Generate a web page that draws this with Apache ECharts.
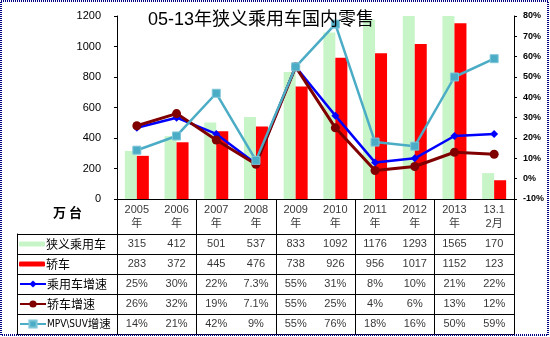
<!DOCTYPE html>
<html><head><meta charset="utf-8">
<script src="https://cdn.jsdelivr.net/npm/echarts@6/dist/echarts.min.js"></script>
<style>html,body{margin:0;padding:0;background:#fff}#c{width:550px;height:337px}</style>
</head><body><div id="c"></div>
<script>
// ---- data ----
const categories = ['2005年','2006年','2007年','2008年','2009年','2010年','2011年','2012年','2013年','13.12月'];
const headerLabels = ['2005\n年','2006\n年','2007\n年','2008\n年','2009\n年','2010\n年','2011\n年','2012\n年','2013\n年','13.1\n2月'];
const seriesNames = ['狭义乘用车','轿车','乘用车增速','轿车增速','MPV\\SUV增速'];
const passengerCars = [315,412,501,537,833,1092,1176,1293,1565,170];
const sedans = [283,372,445,476,738,926,956,1017,1152,123];
const passengerGrowth = [25,30,22,7.3,55,31,8,10,21,22];
const sedanGrowth = [26,32,19,7.1,55,25,4,6,13,12];
const mpvSuvGrowth = [14,21,42,9,55,76,18,16,50,59];
const leftAxis = {min:0, max:1200, interval:200};
const rightAxis = {min:-10, max:80, interval:10};

// ---- layout ----
const FONT = "Arial, 'Liberation Sans', 'Noto Sans CJK SC', sans-serif";
const CJK = "'Noto Sans CJK SC', sans-serif";
const NARROW = "'Liberation Sans Narrow', 'DejaVu Sans Condensed', 'Arial Narrow', sans-serif";
const L = 117, W = 397, T = 16, PH = 183, HH = 35, BH = 100, LEG_L = 17;
const rowH = BH / 5;

const tableRows = [
  passengerCars.map(String),
  sedans.map(String),
  passengerGrowth.map(v => v + '%'),
  sedanGrowth.map(v => v + '%'),
  mpvSuvGrowth.map(v => v + '%')
];
const bodyCells = [];
tableRows.forEach((row, r) => row.forEach((txt, c) => bodyCells.push([c, r, txt])));

const blk = {color:'#000', width:1};
const chart = echarts.init(document.getElementById('c'));
chart.setOption({
  animation:false,
  backgroundColor:'#fff',
  title:[
    {text:'05-13年狭义乘用车国内零售', left:148, top:11, padding:0,
     textStyle:{fontSize:18, fontWeight:'normal', color:'#000', fontFamily:FONT}},
    {text:'万 台', left:53, top:206, padding:0,
     textStyle:{fontSize:13, fontWeight:'bold', color:'#000', fontFamily:CJK}}
  ],
  legend: seriesNames.map((n, i) => ({
    data:[n], left:LEG_L + 2, top:T + PH + HH + i * rowH, padding:0,
    itemWidth:26, itemHeight: i < 2 ? 5 : 9, selectedMode:false,
    formatter: name => name.replace(/^([A-Za-z\\]+)/, '{n|$1}'),
    textStyle:{fontSize: i === 4 ? 11.5 : 12, color:'#000', fontFamily:CJK, lineHeight:rowH, padding:[0,0,0,-4],
      rich:{n:{fontSize:10, fontFamily:NARROW, color:'#000', lineHeight:rowH}}}
  })),
  grid:[
    {left:L, top:T, width:W, height:PH},
    {left:L, top:T+PH, width:W, height:HH},
    {left:L, top:T+PH+HH, width:W, height:BH},
    {left:LEG_L, top:T+PH+HH, width:L-LEG_L, height:BH}
  ],
  xAxis:[
    {gridIndex:0, type:'category', data:categories, axisLabel:{show:false}, axisTick:{show:false}, axisLine:{lineStyle:blk}},
    {gridIndex:1, type:'category', data:categories, axisLabel:{show:false}, axisTick:{show:false}, axisLine:{show:false}, splitLine:{show:true, lineStyle:blk}},
    {gridIndex:2, type:'category', data:categories, axisLabel:{show:false}, axisTick:{show:false}, axisLine:{show:true, lineStyle:blk}, splitLine:{show:true, lineStyle:blk}},
    {gridIndex:3, type:'value', min:0, max:1, axisLabel:{show:false}, axisTick:{show:false}, axisLine:{show:true, lineStyle:blk}, splitLine:{show:false}}
  ],
  yAxis:[
    {gridIndex:0, type:'value', min:leftAxis.min, max:leftAxis.max, interval:leftAxis.interval, position:'left',
     axisLine:{show:true, lineStyle:blk}, axisTick:{show:true, length:3, lineStyle:blk}, splitLine:{show:false},
     axisLabel:{color:'#000', fontSize:11, fontFamily:FONT, margin:16, formatter:v => String(v)}},
    {gridIndex:0, type:'value', min:rightAxis.min, max:rightAxis.max, interval:rightAxis.interval, position:'right',
     axisLine:{show:true, lineStyle:blk}, axisTick:{show:true, length:3, lineStyle:blk}, splitLine:{show:false},
     axisLabel:{color:'#000', fontSize:9, fontWeight:'bold', fontFamily:FONT, margin:9, formatter:'{value}%'}},
    {gridIndex:1, type:'category', data:['h'], axisLine:{show:false}, axisTick:{show:false}, axisLabel:{show:false}, splitLine:{show:false}},
    {gridIndex:2, type:'category', data:seriesNames, inverse:true, axisLine:{show:true, lineStyle:blk}, axisTick:{show:false}, axisLabel:{show:false}, splitLine:{show:true, lineStyle:blk}},
    {gridIndex:3, type:'category', data:seriesNames, inverse:true, axisLine:{show:true, lineStyle:blk}, axisTick:{show:false}, axisLabel:{show:false}, splitLine:{show:true, lineStyle:blk}}
  ],
  series:[
    {name:seriesNames[0], type:'bar', xAxisIndex:0, yAxisIndex:0, data:passengerCars, barWidth:12, barGap:'0%', clip:true,
     itemStyle:{color:'#c8f5c8'}},
    {name:seriesNames[1], type:'bar', xAxisIndex:0, yAxisIndex:0, data:sedans, barWidth:12, barGap:'0%', clip:true,
     itemStyle:{color:'#ff0000'}},
    {name:seriesNames[2], type:'line', xAxisIndex:0, yAxisIndex:1, data:passengerGrowth, symbol:'diamond', symbolSize:8,
     lineStyle:{color:'#0000ff', width:2.5}, itemStyle:{color:'#0000ff'}},
    {name:seriesNames[3], type:'line', xAxisIndex:0, yAxisIndex:1, data:sedanGrowth, symbol:'circle', symbolSize:9,
     lineStyle:{color:'#800000', width:3}, itemStyle:{color:'#800000'}},
    {name:seriesNames[4], type:'line', xAxisIndex:0, yAxisIndex:1, data:mpvSuvGrowth, symbol:'rect', symbolSize:8,
     lineStyle:{color:'#4bacc6', width:2.5}, itemStyle:{color:'#4bacc6', borderColor:'#7fc6d8', borderWidth:1}},
    {name:'header', type:'scatter', xAxisIndex:1, yAxisIndex:2, data:categories.map((c,i)=>[i,0]),
     symbolSize:1, itemStyle:{color:'rgba(0,0,0,0)'}, silent:true,
     label:{show:true, position:'inside', color:'#000', fontSize:11, lineHeight:14, fontFamily:FONT,
       formatter:p => headerLabels[p.dataIndex]}},
    {name:'cells', type:'scatter', xAxisIndex:2, yAxisIndex:3, data:bodyCells,
     symbolSize:1, itemStyle:{color:'rgba(0,0,0,0)'}, silent:true,
     label:{show:true, position:'inside', color:'#000', fontSize:11, fontFamily:FONT, formatter:p => p.value[2]}}
  ],
  graphic:[
    {type:'rect', shape:{x:1, y:1, width:547, height:334}, silent:true, z:100,
     style:{fill:null, stroke:'#000080', lineWidth:2, lineDash:[1,1]}}
  ]
});
</script></body></html>
